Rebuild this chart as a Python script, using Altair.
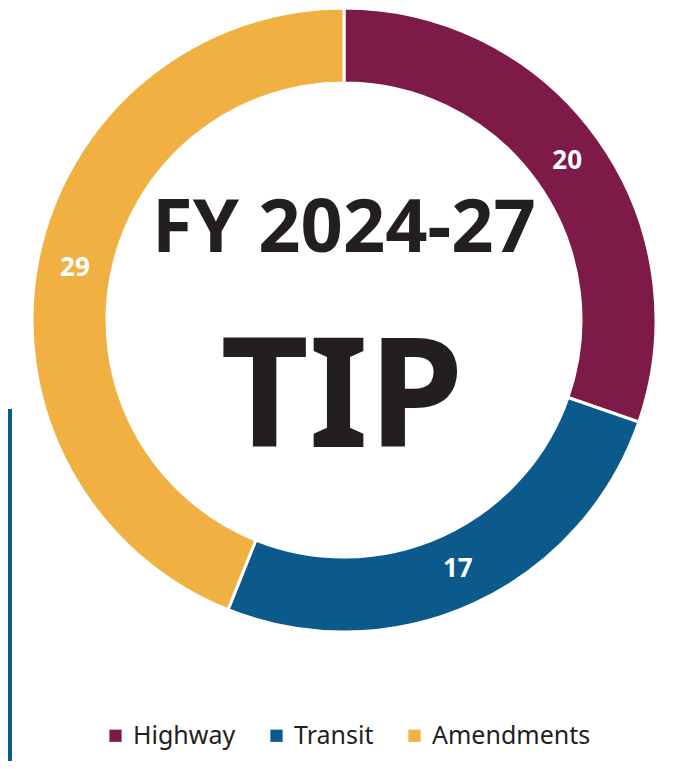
import altair as alt
import pandas as pd

categories = ["Highway", "Transit", "Amendments"]
values = [20, 17, 29]
colors = ["#7D1A47", "#0C5A8C", "#F0B142"]
order = [1, 2, 3]

title_line1 = "FY 2024-27"
title_line2 = "TIP"

df = pd.DataFrame({"category": categories, "value": values, "order": order})

CX, CY = 336, 312
R_OUT, R_IN = 312, 237
R_LABEL = 274

base = alt.Chart(df).encode(
    theta=alt.Theta("value:Q", stack=True),
    order=alt.Order("order:Q"),
)

arcs = base.mark_arc(
    outerRadius=R_OUT, innerRadius=R_IN, stroke="white", strokeWidth=3
).encode(
    x=alt.value(CX),
    y=alt.value(CY),
    color=alt.Color(
        "category:N",
        scale=alt.Scale(domain=categories, range=colors),
        sort=categories,
        legend=alt.Legend(
            title=None,
            orient="none",
            direction="horizontal",
            legendX=95,
            legendY=715,
            symbolType="square",
            symbolSize=150,
            symbolStrokeWidth=0,
            labelFontSize=25,
            labelFont="Noto Sans",
            labelColor="#231F20",
            labelOffset=5,
            columnPadding=28,
            symbolOpacity=1,
        ),
    ),
)

labels = base.mark_text(
    radius=R_LABEL, font="Noto Sans", fontWeight="bold", fontSize=26, color="white"
).encode(
    x=alt.value(CX),
    y=alt.value(CY),
    text=alt.Text("value:Q"),
)

t1 = alt.Chart(pd.DataFrame({"t": [title_line1]})).mark_text(
    font="Noto Sans", fontWeight="bold", fontSize=74, color="#231F20",
    baseline="alphabetic", align="center"
).encode(x=alt.value(CX), y=alt.value(244), text="t:N")

t2 = alt.Chart(pd.DataFrame({"t": [title_line2]})).mark_text(
    font="Noto Sans", fontWeight="bold", fontSize=153, color="#231F20",
    baseline="alphabetic", align="center"
).encode(x=alt.value(CX - 2), y=alt.value(439), text="t:N")

side = alt.Chart(pd.DataFrame({"a": [0]})).mark_rule(
    color="#0C5A8C", strokeWidth=4
).encode(x=alt.value(2), y=alt.value(401), y2=alt.value(753))

chart = alt.layer(arcs, labels, t1, t2, side).properties(
    width=666, height=753, padding=0, background="white",
    autosize=alt.AutoSizeParams(type="none"),
).configure_view(stroke=None)

chart.save("out.html", embed_options={"renderer": "svg", "actions": False})
